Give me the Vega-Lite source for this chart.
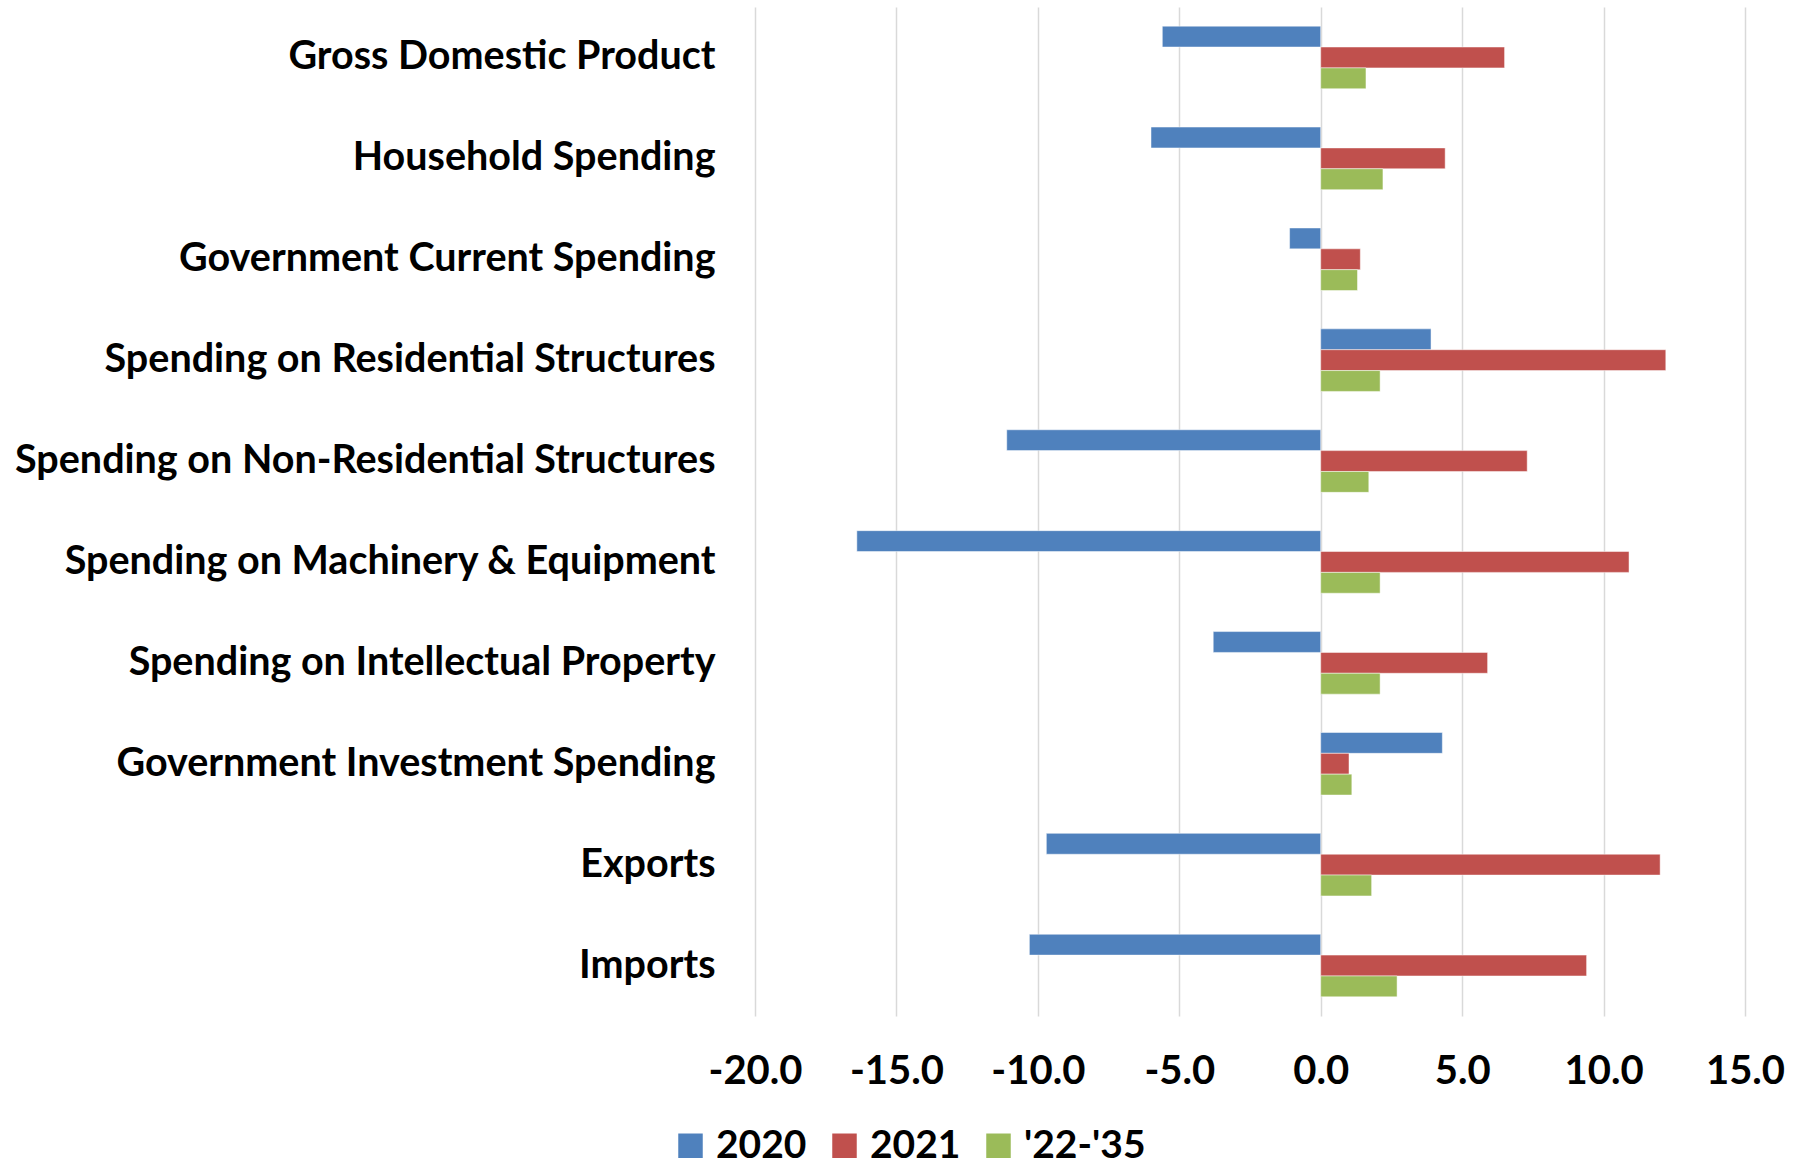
{
  "$schema": "https://vega.github.io/schema/vega-lite/v6.json",
  "autosize": {"type": "none"},
  "padding": {"left": 755, "top": 7, "right": 69, "bottom": 149},
  "width": 990,
  "height": 1009,
  "background": "white",
  "data": {
    "values": [
      {"category": "Gross Domestic Product", "series": "2020", "value": -5.6},
      {"category": "Gross Domestic Product", "series": "2021", "value": 6.5},
      {"category": "Gross Domestic Product", "series": "'22-'35", "value": 1.6},
      {"category": "Household Spending", "series": "2020", "value": -6.0},
      {"category": "Household Spending", "series": "2021", "value": 4.4},
      {"category": "Household Spending", "series": "'22-'35", "value": 2.2},
      {"category": "Government Current Spending", "series": "2020", "value": -1.1},
      {"category": "Government Current Spending", "series": "2021", "value": 1.4},
      {"category": "Government Current Spending", "series": "'22-'35", "value": 1.3},
      {"category": "Spending on Residential Structures", "series": "2020", "value": 3.9},
      {"category": "Spending on Residential Structures", "series": "2021", "value": 12.2},
      {"category": "Spending on Residential Structures", "series": "'22-'35", "value": 2.1},
      {"category": "Spending on Non-Residential Structures", "series": "2020", "value": -11.1},
      {"category": "Spending on Non-Residential Structures", "series": "2021", "value": 7.3},
      {"category": "Spending on Non-Residential Structures", "series": "'22-'35", "value": 1.7},
      {"category": "Spending on Machinery & Equipment", "series": "2020", "value": -16.4},
      {"category": "Spending on Machinery & Equipment", "series": "2021", "value": 10.9},
      {"category": "Spending on Machinery & Equipment", "series": "'22-'35", "value": 2.1},
      {"category": "Spending on Intellectual Property", "series": "2020", "value": -3.8},
      {"category": "Spending on Intellectual Property", "series": "2021", "value": 5.9},
      {"category": "Spending on Intellectual Property", "series": "'22-'35", "value": 2.1},
      {"category": "Government Investment Spending", "series": "2020", "value": 4.3},
      {"category": "Government Investment Spending", "series": "2021", "value": 1.0},
      {"category": "Government Investment Spending", "series": "'22-'35", "value": 1.1},
      {"category": "Exports", "series": "2020", "value": -9.7},
      {"category": "Exports", "series": "2021", "value": 12.0},
      {"category": "Exports", "series": "'22-'35", "value": 1.8},
      {"category": "Imports", "series": "2020", "value": -10.3},
      {"category": "Imports", "series": "2021", "value": 9.4},
      {"category": "Imports", "series": "'22-'35", "value": 2.7}
    ]
  },
  "mark": {"type": "bar", "stroke": "white", "strokeWidth": 0.8, "strokeOpacity": 0.6},
  "encoding": {
    "y": {
      "field": "category",
      "type": "nominal",
      "sort": null,
      "scale": {"paddingInner": 0.38, "paddingOuter": 0.19},
      "axis": {
        "title": null,
        "ticks": false,
        "domain": false,
        "labelPadding": 40,
        "labelFont": "Lato, sans-serif",
        "labelFontWeight": "bold",
        "labelFontSize": 39.5,
        "labelColor": "black",
        "labelLimit": 800
      }
    },
    "yOffset": {
      "field": "series",
      "type": "nominal",
      "sort": ["2020", "2021", "'22-'35"],
      "scale": {"domain": ["2020", "2021", "'22-'35"], "paddingInner": 0, "paddingOuter": 0}
    },
    "x": {
      "field": "value",
      "type": "quantitative",
      "scale": {"domain": [-20, 15], "nice": false, "zero": true},
      "axis": {
        "title": null,
        "values": [-20, -15, -10, -5, 0, 5, 10, 15],
        "labelExpr": "replace(format(datum.value, '.1f'), '\u2212', '-')",
        "ticks": false,
        "domain": false,
        "grid": true,
        "gridColor": "#D9D9D9",
        "gridWidth": 1.5,
        "labelPadding": 35,
        "labelFont": "Lato, sans-serif",
        "labelFontWeight": "bold",
        "labelFontSize": 40,
        "labelColor": "black",
        "labelFlush": false
      }
    },
    "color": {
      "field": "series",
      "type": "nominal",
      "scale": {"domain": ["2020", "2021", "'22-'35"], "range": ["#4F81BD", "#C0504D", "#9BBB59"]},
      "legend": {
        "title": null,
        "orient": "none",
        "direction": "horizontal",
        "legendX": -84,
        "legendY": 1119,
        "symbolType": "square",
        "symbolSize": 600,
        "symbolStrokeWidth": 0,
        "symbolOpacity": 1,
        "labelFont": "Lato, sans-serif",
        "labelFontWeight": "bold",
        "labelFontSize": 39,
        "labelColor": "black",
        "labelOffset": 6,
        "columnPadding": 18,
        "labelLimit": 300
      }
    }
  },
  "config": {"view": {"stroke": null}}
}
